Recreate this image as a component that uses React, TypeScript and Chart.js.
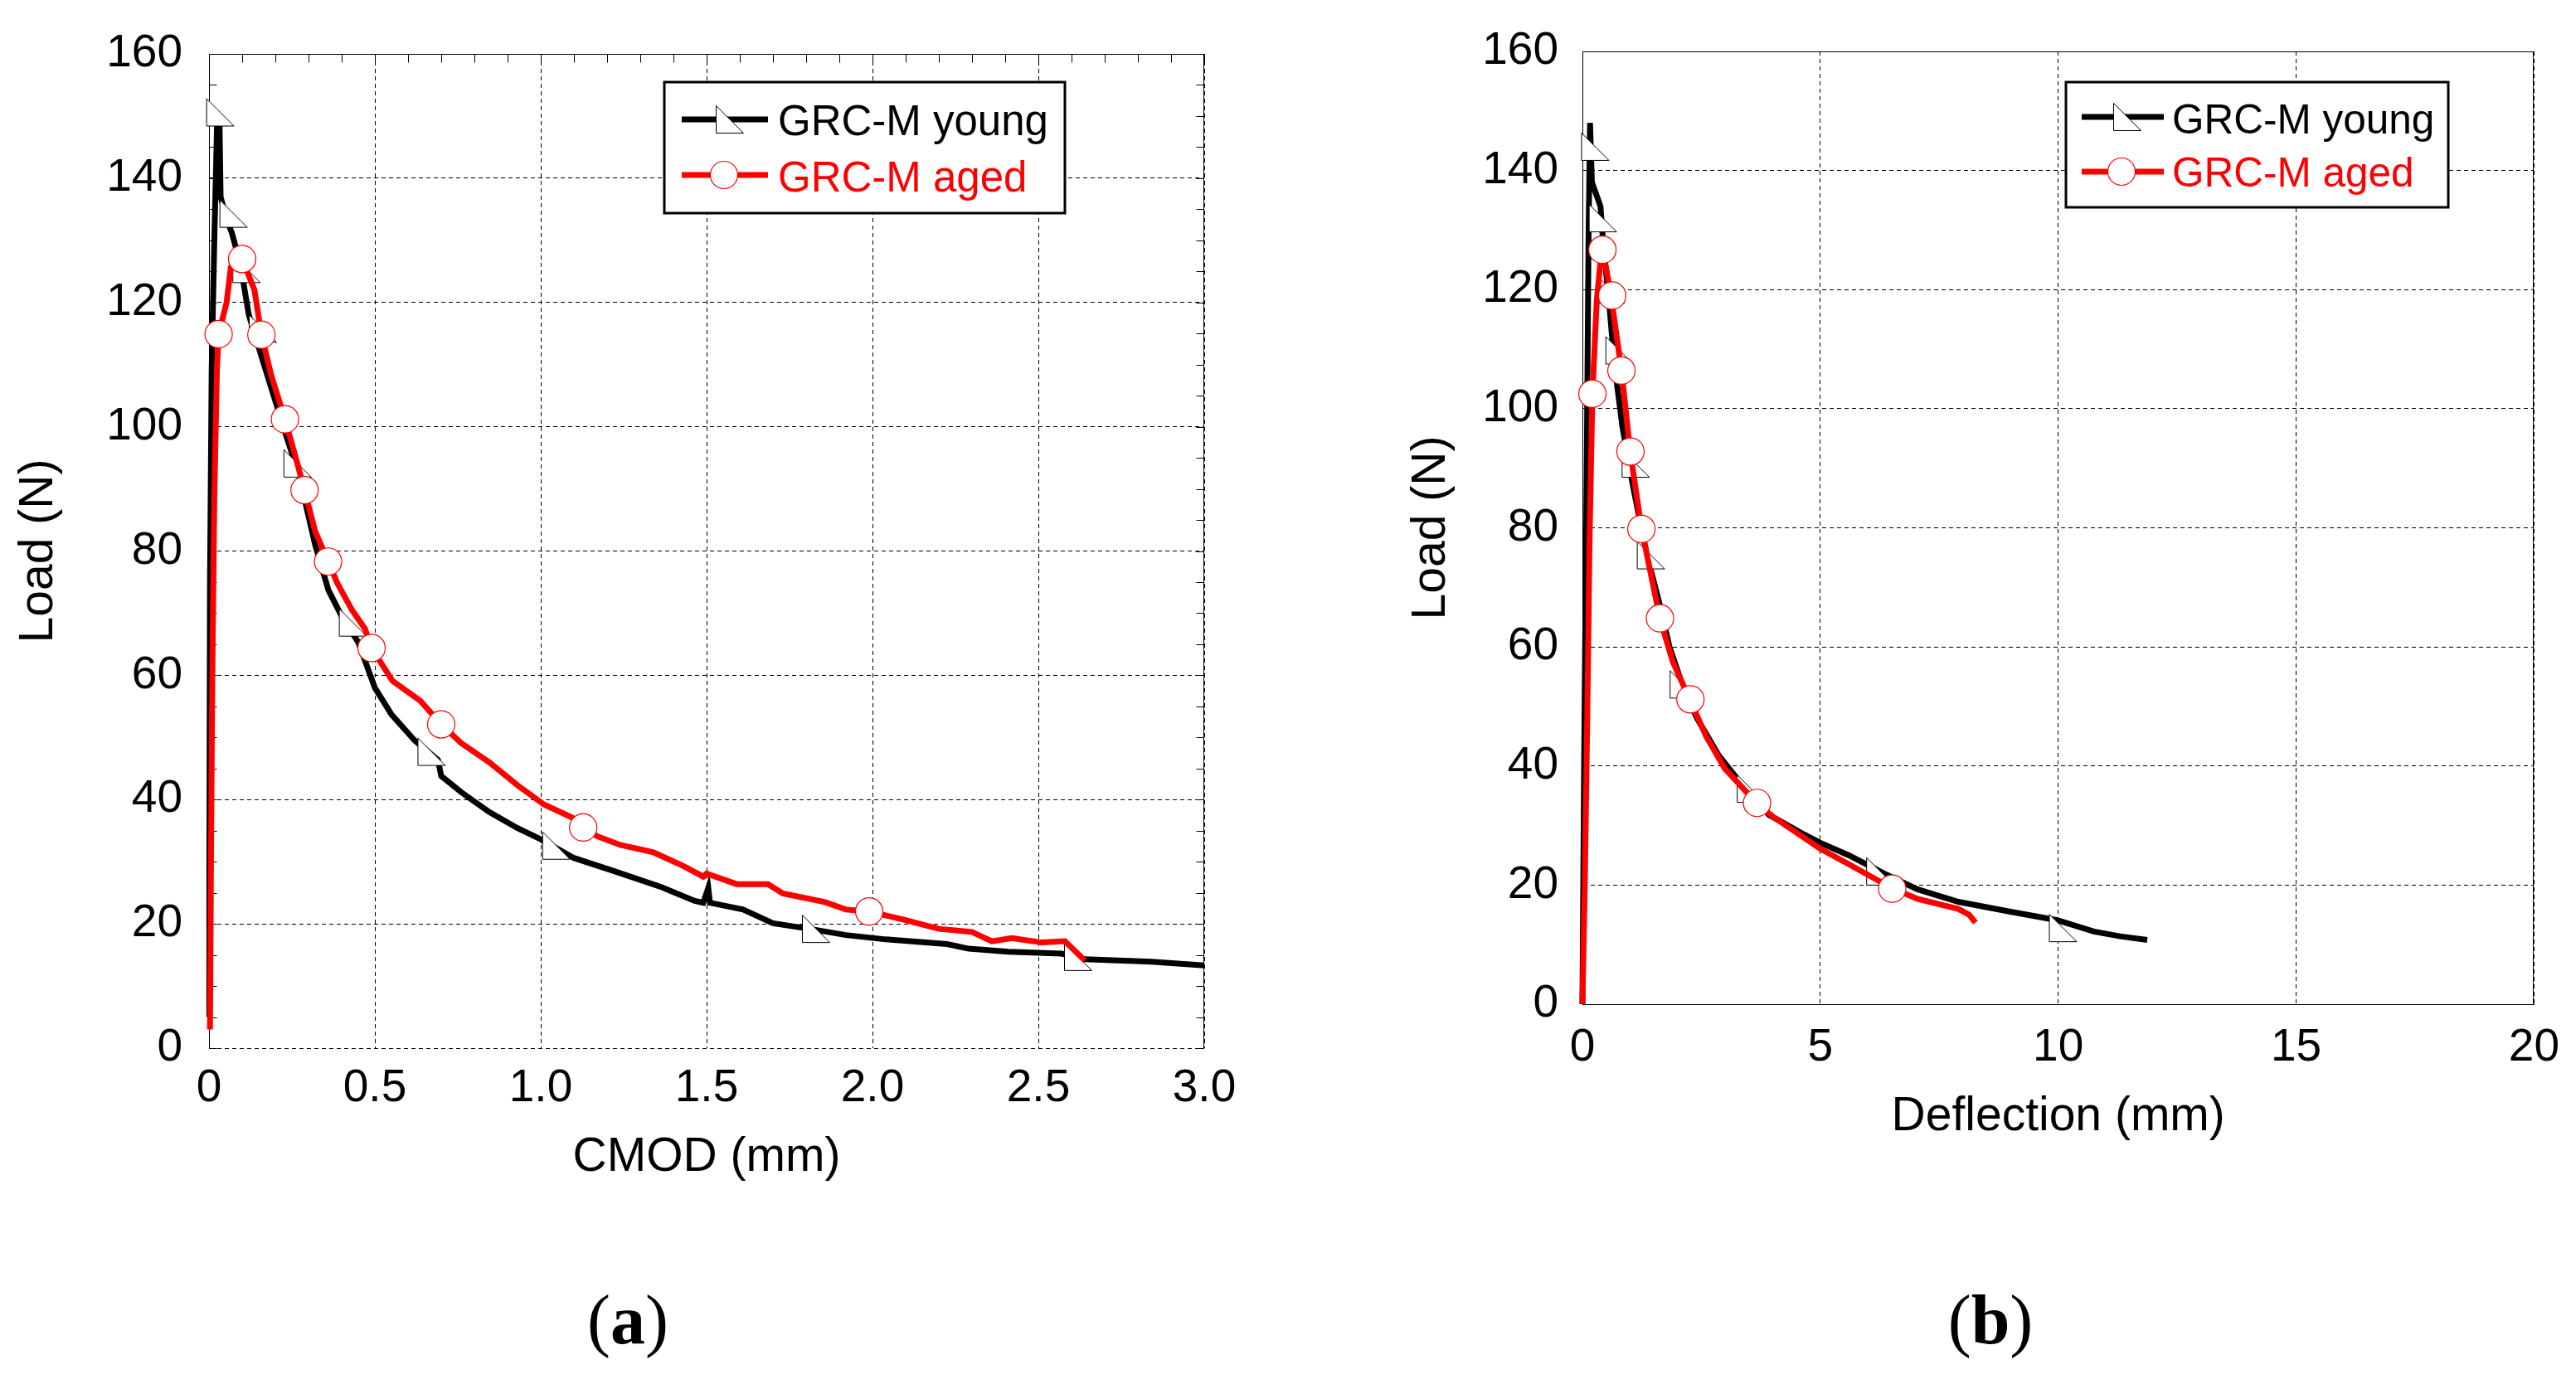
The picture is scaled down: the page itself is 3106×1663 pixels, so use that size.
import { useEffect, useRef } from 'react';
import { Chart, registerables } from 'chart.js';

Chart.register(...registerables);

// ---------- data ----------
const seriesNames = ['GRC-M young', 'GRC-M aged'];
const loadTicks = [0, 20, 40, 60, 80, 100, 120, 140, 160];
const cmodTicks = [0, 0.5, 1.0, 1.5, 2.0, 2.5, 3.0];
const cmodTickLabels = ['0', '0.5', '1.0', '1.5', '2.0', '2.5', '3.0'];
const deflTicks = [0, 5, 10, 15, 20];
const deflTickLabels = ['0', '5', '10', '15', '20'];

// (a) Load vs CMOD
const cmodYoungX = [0, 0.001, 0.003, 0.008, 0.016, 0.024, 0.032, 0.035, 0.05, 0.07, 0.095, 0.12, 0.16, 0.195, 0.23, 0.27, 0.32, 0.36, 0.40, 0.45, 0.50, 0.55, 0.62, 0.69, 0.70, 0.76, 0.845, 0.93, 1.0, 1.1, 1.22, 1.365, 1.464, 1.49, 1.505, 1.51, 1.61, 1.70, 1.81, 1.92, 2.04, 2.225, 2.29, 2.41, 2.57, 2.64, 2.84, 3.0];
const cmodYoungY = [5, 30, 75, 109, 130, 148, 148, 137, 134, 131, 126, 118, 111, 105, 99, 92.5, 81, 73.7, 69.5, 65.3, 58, 53.7, 49.5, 46.4, 43.8, 41.2, 38, 35.4, 33.6, 30.6, 28.5, 25.9, 23.7, 23.4, 25.8, 23.4, 22.3, 20.1, 19.2, 18.2, 17.5, 16.75, 16.0, 15.5, 15.2, 14.3, 13.9, 13.3];
const cmodAgedX = [0.003, 0.006, 0.01, 0.016, 0.024, 0.029, 0.053, 0.066, 0.1, 0.137, 0.158, 0.187, 0.229, 0.2575, 0.288, 0.32, 0.359, 0.387, 0.43, 0.47, 0.49, 0.553, 0.637, 0.70, 0.76, 0.845, 0.93, 1.01, 1.095, 1.128, 1.17, 1.24, 1.34, 1.43, 1.49, 1.50, 1.59, 1.685, 1.73, 1.857, 1.92, 1.99, 2.10, 2.20, 2.30, 2.36, 2.42, 2.51, 2.58, 2.64];
const cmodAgedY = [3, 30, 60, 88.5, 109.4, 114.9, 120, 125.7, 127, 122, 114.8, 108.4, 101.2, 95.8, 89.8, 83.2, 78.3, 74.8, 70.6, 67.5, 64.4, 59.1, 55.9, 52.1, 49.1, 46.0, 42.3, 39.2, 37.1, 35.5, 34.1, 32.7, 31.5, 29.3, 27.6, 28.1, 26.4, 26.4, 24.9, 23.5, 22.3, 22.0, 20.6, 19.2, 18.7, 17.2, 17.7, 17.0, 17.2, 14.1];
const cmodYoungMarkX = [0.034, 0.074, 0.113, 0.1625, 0.267, 0.434, 0.671, 1.047, 1.83, 2.62];
const cmodYoungMarkY = [150.6, 134.3, 125.4, 115.8, 94.1, 68.5, 47.7, 32.6, 19.2, 14.7];
const cmodAgedMarkX = [0.029, 0.1, 0.158, 0.229, 0.288, 0.359, 0.49, 0.70, 1.128, 1.99];
const cmodAgedMarkY = [114.9, 127, 114.8, 101.2, 89.8, 78.3, 64.4, 52.1, 35.5, 22.0];

// (b) Load vs deflection
const deflYoungX = [0, 0.035, 0.09, 0.13, 0.16, 0.2, 0.38, 0.44, 0.56, 0.67, 0.84, 1.07, 1.36, 1.6, 1.83, 2.12, 2.41, 2.87, 3.28, 3.92, 4.61, 5.0, 5.6, 6.35, 7.04, 7.9, 8.95, 9.98, 10.75, 11.3, 11.87];
const deflYoungY = [0, 40, 90, 130, 148, 138, 134, 127.4, 118, 107.6, 97, 86.7, 75.2, 67.9, 60, 53.2, 48, 41.7, 37.6, 31.8, 28.7, 27.1, 25, 21.9, 19.3, 17.2, 15.6, 14.1, 12.2, 11.4, 10.8];
const deflAgedX = [0, 0.05, 0.1, 0.15, 0.21, 0.3, 0.4, 0.49, 0.6, 0.82, 1.0, 1.24, 1.63, 1.9, 2.26, 2.6, 2.99, 3.67, 4.0, 4.43, 5.0, 5.6, 6.5, 7.04, 7.6, 7.9, 8.13, 8.26];
const deflAgedY = [0, 20, 47, 78, 102.4, 118, 126.4, 124, 119, 106.5, 93, 80, 64.7, 57.5, 51.1, 45, 39.6, 33.7, 31.5, 29.2, 26.1, 23.5, 19.5, 17.7, 16.6, 16, 15, 13.7];
const deflYoungMarkX = [0.27, 0.43, 0.6, 0.78, 1.12, 1.44, 2.13, 3.54, 6.26, 10.1];
const deflYoungMarkY = [144, 132, 120, 109.8, 90.8, 75.4, 53.7, 36.2, 22.3, 12.8];
const deflAgedMarkX = [0.21, 0.42, 0.625, 0.82, 1.01, 1.24, 1.63, 2.27, 3.67, 6.51];
const deflAgedMarkY = [102.5, 126.7, 119, 106.4, 92.8, 79.8, 64.8, 51.2, 33.8, 19.4];

// ---------- layout ----------
const W = 1553;
const H = 1480;
const SANS = "'Liberation Sans', Arial, sans-serif";

const pts = (xs: number[], ys: number[]) => xs.map((x, i) => ({ x, y: ys[i] }));

function makeTriangle() {
  const c = document.createElement('canvas');
  c.width = 36;
  c.height = 36;
  const g = c.getContext('2d')!;
  g.beginPath();
  g.moveTo(1.5, 1.5);
  g.lineTo(1.5, 34.5);
  g.lineTo(34.5, 34.5);
  g.closePath();
  g.fillStyle = '#fff';
  g.fill();
  g.lineWidth = 1;
  g.strokeStyle = '#000';
  g.stroke();
  return c;
}

type Panel = {
  left: number;
  area: { l: number; t: number; r: number; b: number };
  xMax: number;
  xTicks: number[];
  xLabels: string[];
  xTitle: string;
  young: { x: number; y: number }[];
  aged: { x: number; y: number }[];
  youngMarks: { x: number; y: number }[];
  agedMarks: { x: number; y: number }[];
  yTickPad: number;
  xTickPad: number;
  xTitlePad: number;
  yTitlePad: number;
  xBorder: boolean;
  frameSides: string[];
  minor: boolean;
  legend: { x1: number; y1: number; x2: number; y2: number; rows: number[]; base: number[]; l1: number; l2: number; mx: number; tx: number; size: number };
};

const panels: Panel[] = [
  {
    left: 0,
    area: { l: 252, t: 54, r: 1452, b: 1264 },
    xMax: 3,
    xTicks: cmodTicks,
    xLabels: cmodTickLabels,
    xTitle: 'CMOD (mm)',
    young: pts(cmodYoungX, cmodYoungY),
    aged: pts(cmodAgedX, cmodAgedY),
    youngMarks: pts(cmodYoungMarkX, cmodYoungMarkY),
    agedMarks: pts(cmodAgedMarkX, cmodAgedMarkY),
    yTickPad: 32,
    xTickPad: 16,
    xTitlePad: 50,
    yTitlePad: 13,
    xBorder: false,
    frameSides: ['top', 'right'],
    minor: true,
    legend: { x1: 801, y1: 99, x2: 1284, y2: 257, rows: [144, 211], base: [163, 231], l1: 822, l2: 926, mx: 877, tx: 938, size: 51 },
  },
  {
    left: 1553,
    area: { l: 355, t: 54, r: 1504, b: 1211 },
    xMax: 20,
    xTicks: deflTicks,
    xLabels: deflTickLabels,
    xTitle: 'Deflection (mm)',
    young: pts(deflYoungX, deflYoungY),
    aged: pts(deflAgedX, deflAgedY),
    youngMarks: pts(deflYoungMarkX, deflYoungMarkY),
    agedMarks: pts(deflAgedMarkX, deflAgedMarkY),
    yTickPad: 29,
    xTickPad: 20,
    xTitlePad: 99,
    yTitlePad: 139,
    xBorder: true,
    frameSides: ['top', 'right'],
    minor: false,
    legend: { x1: 938, y1: 99, x2: 1399, y2: 250, rows: [141, 207], base: [161, 225], l1: 957, l2: 1056, mx: 1009, tx: 1066, size: 49.5 },
  },
];

const framePlugin = {
  id: 'frame',
  beforeDatasetsDraw(chart: any, _args: any, opts: any) {
    const { ctx, chartArea: a, scales } = chart;
    ctx.save();
    ctx.strokeStyle = '#000';
    ctx.lineWidth = 1;
    ctx.setLineDash([]);
    const L = Math.round(a.left) + 0.5;
    const R = Math.round(a.right) - 0.5;
    const T = Math.round(a.top) + 0.5;
    ctx.beginPath();
    if (opts.sides.includes('top')) {
      ctx.moveTo(a.left, T);
      ctx.lineTo(a.right, T);
    }
    if (opts.sides.includes('right')) {
      ctx.moveTo(R, a.top);
      ctx.lineTo(R, a.bottom);
    }
    if (opts.minor) {
      const len = 9;
      for (let i = 0; i <= 32; i++) {
        const y = Math.round(scales.y.getPixelForValue(i * 5)) + 0.5;
        ctx.moveTo(L, y);
        ctx.lineTo(L + len, y);
        ctx.moveTo(R, y);
        ctx.lineTo(R - len, y);
      }
      for (let i = 0; i <= 30; i++) {
        const x = Math.round(scales.x.getPixelForValue(i / 10)) + 0.5;
        ctx.moveTo(x, T);
        ctx.lineTo(x, T + len + 1);
      }
    }
    ctx.stroke();
    ctx.restore();
  },
};

const legendPlugin = {
  id: 'boxLegend',
  afterDatasetsDraw(chart: any, _args: any, opts: any) {
    const { ctx } = chart;
    const g = opts.box;
    const tri = opts.tri;
    ctx.save();
    ctx.setLineDash([]);
    ctx.fillStyle = '#fff';
    ctx.fillRect(g.x1, g.y1, g.x2 - g.x1, g.y2 - g.y1);
    ctx.lineWidth = 3;
    ctx.strokeStyle = '#000';
    ctx.strokeRect(g.x1, g.y1, g.x2 - g.x1, g.y2 - g.y1);
    const colors = ['#000000', '#ff0000'];
    ctx.font = `${g.size}px ${SANS}`;
    ctx.textBaseline = 'alphabetic';
    ctx.textAlign = 'left';
    for (let i = 0; i < 2; i++) {
      const y = g.rows[i];
      ctx.strokeStyle = colors[i];
      ctx.lineWidth = 7;
      ctx.beginPath();
      ctx.moveTo(g.l1, y);
      ctx.lineTo(g.l2, y);
      ctx.stroke();
      if (i === 0) {
        ctx.drawImage(tri, g.mx + 3 - 18, y - 18);
      } else {
        ctx.beginPath();
        ctx.arc(g.mx - 4, y, 16.5, 0, Math.PI * 2);
        ctx.fillStyle = '#fff';
        ctx.fill();
        ctx.lineWidth = 1.2;
        ctx.strokeStyle = '#ff0000';
        ctx.stroke();
      }
      ctx.fillStyle = colors[i];
      ctx.fillText(seriesNames[i], g.tx, g.base[i]);
    }
    ctx.restore();
  },
};

function PanelChart({ p }: { p: Panel }) {
  const chartRef = useRef<HTMLCanvasElement | null>(null);

  useEffect(() => {
    const ctx = chartRef.current?.getContext('2d');
    if (!ctx) return;
    const tri = makeTriangle();
    const tickFont = { family: SANS, size: 55 };
    const titleFont = { family: SANS, size: 57 };

    const chart = new Chart(ctx, {
      type: 'line',
      data: {
        datasets: [
          {
            label: seriesNames[0],
            data: p.young,
            borderColor: '#000000',
            borderWidth: 7,
            pointRadius: 0,
            tension: 0,
            clip: 8,
            order: 4,
          },
          {
            label: seriesNames[0] + ' markers',
            data: p.youngMarks,
            showLine: false,
            pointStyle: tri,
            pointRadius: 18,
            clip: 30,
            order: 3,
          },
          {
            label: seriesNames[1],
            data: p.aged,
            borderColor: '#ff0000',
            borderWidth: 7,
            pointRadius: 0,
            tension: 0,
            clip: 8,
            order: 2,
          },
          {
            label: seriesNames[1] + ' markers',
            data: p.agedMarks,
            showLine: false,
            pointStyle: 'circle',
            pointRadius: 16.5,
            pointBackgroundColor: '#ffffff',
            pointBorderColor: '#ff0000',
            pointBorderWidth: 1.2,
            clip: 30,
            order: 1,
          },
        ],
      } as any,
      options: {
        responsive: false,
        animation: false,
        devicePixelRatio: 1,
        events: [],
        layout: { padding: { left: 0, top: p.area.t, right: W - p.area.r, bottom: 0 } },
        scales: {
          x: {
            type: 'linear',
            min: 0,
            max: p.xMax,
            afterBuildTicks: (s: any) => {
              s.ticks = p.xTicks.map((v) => ({ value: v }));
            },
            afterFit: (s: any) => {
              s.height = H - p.area.b;
            },
            ticks: {
              callback: (_v: any, i: number) => p.xLabels[i],
              padding: p.xTickPad,
              font: tickFont,
              color: '#000',
              maxRotation: 0,
              autoSkip: false,
            },
            grid: { color: '#000', lineWidth: 1, drawTicks: false },
            border: { display: p.xBorder, color: '#000', width: 1, dash: [5, 4] },
            title: {
              display: true,
              text: p.xTitle,
              font: titleFont,
              color: '#000',
              padding: { top: 0, bottom: p.xTitlePad },
            },
          },
          y: {
            type: 'linear',
            min: 0,
            max: 160,
            afterBuildTicks: (s: any) => {
              s.ticks = loadTicks.map((v) => ({ value: v }));
            },
            afterFit: (s: any) => {
              s.width = p.area.l;
            },
            ticks: {
              callback: (v: any) => String(v),
              padding: p.yTickPad,
              font: tickFont,
              color: '#000',
              autoSkip: false,
            },
            grid: { color: '#000', lineWidth: 1, drawTicks: false },
            border: { display: true, color: '#000', width: 1, dash: [5, 4] },
            title: {
              display: true,
              text: 'Load (N)',
              font: titleFont,
              color: '#000',
              padding: { top: p.yTitlePad, bottom: 0 },
            },
          },
        },
        plugins: {
          legend: { display: false },
          tooltip: { enabled: false },
          frame: { sides: p.frameSides, minor: p.minor },
          boxLegend: { box: p.legend, tri },
        } as any,
      },
      plugins: [framePlugin, legendPlugin],
    } as any);

    return () => {
      chart.destroy();
    };
  }, [p]);

  return (
    <canvas
      ref={chartRef}
      width={W}
      height={H}
      style={{ position: 'absolute', left: p.left, top: 0, width: W, height: H }}
    />
  );
}

const captionStyle: React.CSSProperties = {
  position: 'absolute',
  top: 1550,
  width: 300,
  textAlign: 'center',
  fontFamily: "'Liberation Serif', 'Times New Roman', serif",
  fontSize: 84,
  lineHeight: '84px',
  color: '#000',
};

export default function App() {
  return (
    <div style={{ position: 'absolute', left: 0, top: 0, width: 3106, height: 1663, background: '#fff', overflow: 'hidden' }}>
      <PanelChart p={panels[0]} />
      <PanelChart p={panels[1]} />
      <div style={{ ...captionStyle, left: 757 - 150 }}>
        (<b>a</b>)
      </div>
      <div style={{ ...captionStyle, left: 2400 - 150 }}>
        (<b>b</b>)
      </div>
    </div>
  );
}
